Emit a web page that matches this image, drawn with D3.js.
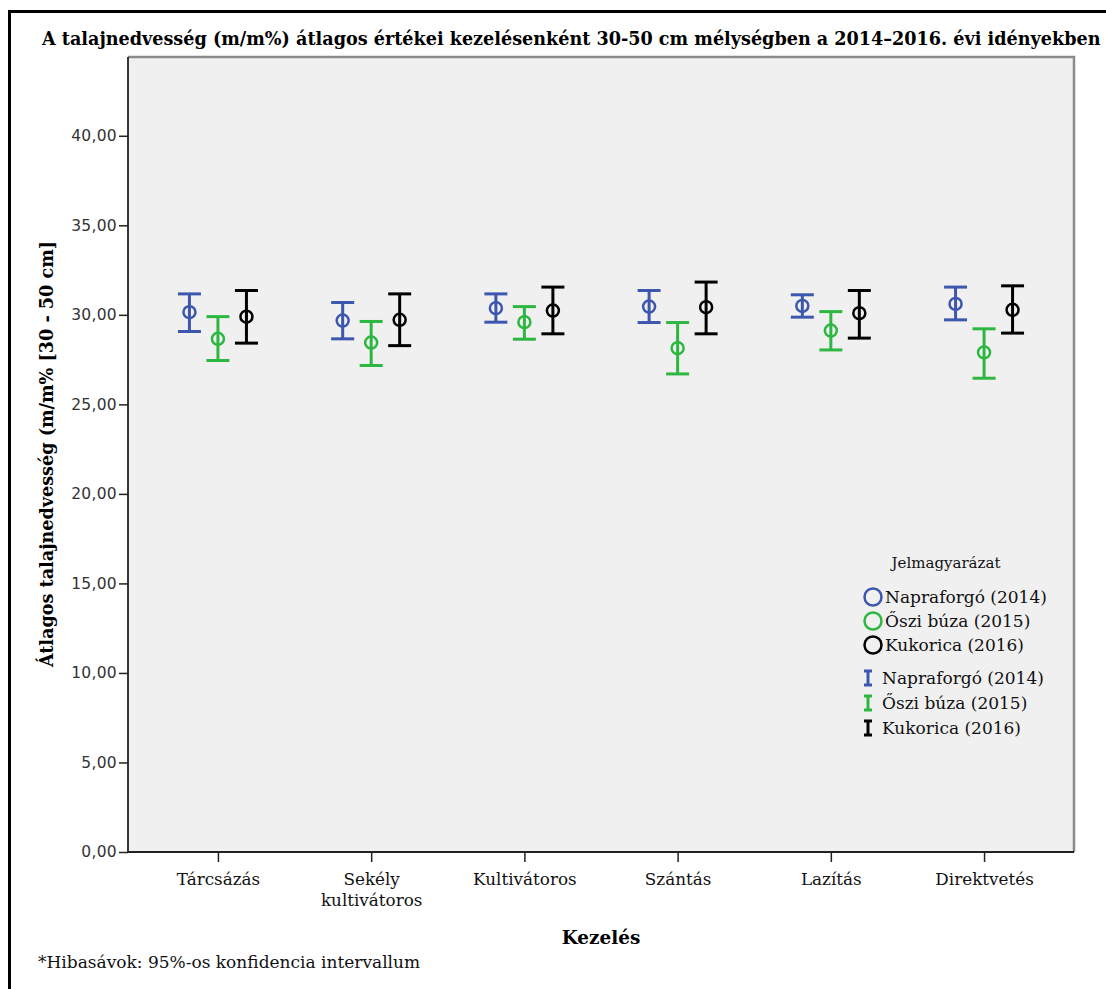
<!DOCTYPE html>
<html><head><meta charset="utf-8">
<script src="https://cdn.jsdelivr.net/npm/d3@7"></script>
<style>
body{margin:0;background:#fff;}
svg{display:block;}
</style>
</head><body>
<svg id="chart" width="1106" height="989"></svg>
<script>
// Kezelések (treatments) on the x axis
const categories = ["Tárcsázás", "Sekély kultivátoros", "Kultivátoros", "Szántás", "Lazítás", "Direktvetés"];
const seriesNames = ["Napraforgó (2014)", "Őszi búza (2015)", "Kukorica (2016)"];
const seriesColors = ["#3d57ae", "#2db741", "#000000"];

// Átlag és 95%-os konfidencia intervallum, m/m%
const napraforgoMean = [30.15, 29.68, 30.37, 30.46, 30.50, 30.61];
const napraforgoLow  = [29.07, 28.66, 29.59, 29.57, 29.87, 29.72];
const napraforgoHigh = [31.17, 30.69, 31.17, 31.36, 31.12, 31.55];

const osziBuzaMean = [28.66, 28.45, 29.59, 28.14, 29.12, 27.90];
const osziBuzaLow  = [27.45, 27.17, 28.64, 26.70, 28.04, 26.46];
const osziBuzaHigh = [29.90, 29.63, 30.46, 29.57, 30.18, 29.22];

const kukoricaMean = [29.90, 29.72, 30.24, 30.43, 30.09, 30.28];
const kukoricaLow  = [28.42, 28.28, 28.94, 28.94, 28.70, 28.98];
const kukoricaHigh = [31.36, 31.17, 31.55, 31.83, 31.36, 31.62];

const yTicks = [0, 5, 10, 15, 20, 25, 30, 35, 40];
const yMax = 44.4;

const titleText = "A talajnedvesség (m/m%) átlagos értékei kezelésenként 30-50 cm mélységben a 2014–2016. évi idényekben";
const yTitle = "Átlagos talajnedvesség (m/m% [30 - 50 cm]";
const xTitle = "Kezelés";
const legendTitle = "Jelmagyarázat";
const footnote = "*Hibasávok: 95%-os konfidencia intervallum";

const series = [
  {name: seriesNames[0], color: seriesColors[0], mean: napraforgoMean, low: napraforgoLow, high: napraforgoHigh},
  {name: seriesNames[1], color: seriesColors[1], mean: osziBuzaMean, low: osziBuzaLow, high: osziBuzaHigh},
  {name: seriesNames[2], color: seriesColors[2], mean: kukoricaMean, low: kukoricaLow, high: kukoricaHigh}
];

const serif = "'DejaVu Serif', 'Liberation Serif', serif";
const sans = "'DejaVu Sans', sans-serif";

const svg = d3.select("#chart");
const plot = {left: 128, top: 57, right: 1074, bottom: 852};

// outer frame
svg.append("line").attr("x1", 8).attr("x2", 1106).attr("y1", 11.5).attr("y2", 11.5)
  .attr("stroke", "#000").attr("stroke-width", 3);
svg.append("line").attr("x1", 9.5).attr("x2", 9.5).attr("y1", 10).attr("y2", 989)
  .attr("stroke", "#000").attr("stroke-width", 3);

// title
svg.append("text").attr("x", 42).attr("y", 45)
  .attr("font-family", serif).attr("font-weight", "bold").attr("font-size", 17.6)
  .attr("fill", "#000").text(titleText);

const x = d3.scalePoint().domain(categories).range([plot.left, plot.right]).padding(0.587);
const y = d3.scaleLinear().domain([0, yMax]).range([plot.bottom, plot.top]);
const offset = d3.scalePoint().domain(seriesNames).range([-28.5, 28.5]);

// plot background and frame
svg.append("rect").attr("x", plot.left).attr("y", plot.top)
  .attr("width", plot.right - plot.left).attr("height", plot.bottom - plot.top)
  .attr("fill", "#f0f0f0");
svg.append("path")
  .attr("d", `M${plot.left},${plot.top}H${plot.right}V${plot.bottom}`)
  .attr("fill", "none").attr("stroke", "#8a8a8a").attr("stroke-width", 2.5);

// y axis
const fmt = v => d3.format(".2f")(v).replace(".", ",");
const yAxis = svg.append("g").attr("transform", `translate(${plot.left},0)`)
  .call(d3.axisLeft(y).tickValues(yTicks).tickSize(9).tickPadding(2).tickFormat(fmt));
yAxis.select(".domain").remove();
yAxis.selectAll(".tick line").attr("stroke", "#222").attr("stroke-width", 1.5);
yAxis.selectAll(".tick text").attr("font-family", sans).attr("font-size", 15.5)
  .attr("letter-spacing", 0.3).attr("fill", "#333").attr("font-weight", "normal");

// x axis
const xAxis = svg.append("g").attr("transform", `translate(0,${plot.bottom})`)
  .call(d3.axisBottom(x).tickSize(10).tickFormat(""));
xAxis.select(".domain").remove();
xAxis.selectAll(".tick line").attr("stroke", "#222").attr("stroke-width", 1.5);
xAxis.selectAll(".tick").each(function(d) {
  const words = d === "Sekély kultivátoros" ? ["Sekély", "kultivátoros"] : [d];
  const t = d3.select(this).append("text").attr("text-anchor", "middle")
    .attr("font-family", serif).attr("font-size", 16.8).attr("fill", "#111");
  words.forEach((w, i) => t.append("tspan").attr("x", 0).attr("y", 33 + i * 21).text(w));
});

// axis lines
svg.append("line").attr("x1", plot.left).attr("x2", plot.left).attr("y1", plot.top).attr("y2", plot.bottom)
  .attr("stroke", "#222").attr("stroke-width", 1.8);
svg.append("line").attr("x1", plot.left).attr("x2", plot.right).attr("y1", plot.bottom).attr("y2", plot.bottom)
  .attr("stroke", "#222").attr("stroke-width", 1.8);

// error bars and means
const capHalf = 11.5;
series.forEach(s => {
  const g = svg.append("g");
  categories.forEach((c, i) => {
    const cx = x(c) + offset(s.name);
    g.append("line").attr("x1", cx).attr("x2", cx).attr("y1", y(s.low[i])).attr("y2", y(s.high[i]))
      .attr("stroke", s.color).attr("stroke-width", 3);
    [s.low[i], s.high[i]].forEach(v => {
      g.append("line").attr("x1", cx - capHalf).attr("x2", cx + capHalf).attr("y1", y(v)).attr("y2", y(v))
        .attr("stroke", s.color).attr("stroke-width", 3);
    });
    g.append("circle").attr("cx", cx).attr("cy", y(s.mean[i])).attr("r", 6)
      .attr("fill", "none").attr("stroke", s.color).attr("stroke-width", 2.5);
  });
});

// x axis title and footnote
svg.append("text").attr("x", 601).attr("y", 944).attr("text-anchor", "middle")
  .attr("font-family", serif).attr("font-weight", "bold").attr("font-size", 18.4).text(xTitle);
svg.append("text").attr("x", 38).attr("y", 968)
  .attr("font-family", serif).attr("font-size", 17).attr("fill", "#111").text(footnote);

// y axis title
svg.append("text").attr("transform", "translate(53,454) rotate(-90)").attr("text-anchor", "middle")
  .attr("font-family", serif).attr("font-weight", "bold").attr("font-size", 17.6).text(yTitle);

// legend
const legend = svg.append("g");
legend.append("text").attr("x", 946).attr("y", 568).attr("text-anchor", "middle")
  .attr("font-family", serif).attr("font-size", 15).attr("fill", "#111").text(legendTitle);
series.forEach((s, i) => {
  const ly = 597 + i * 24;
  legend.append("circle").attr("cx", 873).attr("cy", ly).attr("r", 8.5)
    .attr("fill", "none").attr("stroke", s.color).attr("stroke-width", 2.5);
  legend.append("text").attr("x", 885).attr("y", ly + 6)
    .attr("font-family", serif).attr("font-size", 17).attr("fill", "#111").text(s.name);
});
series.forEach((s, i) => {
  const ly = 678 + i * 25;
  const lg = legend.append("g").attr("stroke", s.color).attr("stroke-width", 3);
  lg.append("line").attr("x1", 868).attr("x2", 868).attr("y1", ly - 7).attr("y2", ly + 7);
  lg.append("line").attr("x1", 864).attr("x2", 872).attr("y1", ly - 7).attr("y2", ly - 7);
  lg.append("line").attr("x1", 864).attr("x2", 872).attr("y1", ly + 7).attr("y2", ly + 7);
  legend.append("text").attr("x", 882).attr("y", ly + 6)
    .attr("font-family", serif).attr("font-size", 17).attr("fill", "#111").text(s.name);
});
</script>
</body></html>
